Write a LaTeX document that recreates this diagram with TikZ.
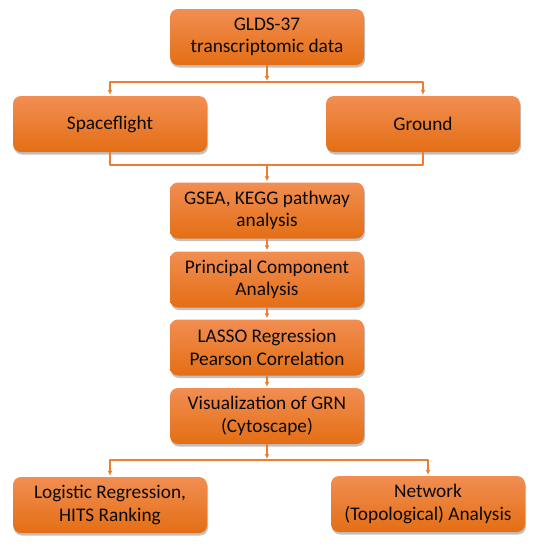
\documentclass[tikz,border=0pt]{standalone}
\usepackage{fontspec}
\setmainfont{Carlito}
\usetikzlibrary{arrows.meta,shadows}

\definecolor{boxtop}{RGB}{241,142,82}
\definecolor{boxbot}{RGB}{228,110,20}
\definecolor{wire}{RGB}{237,125,49}
\definecolor{ink}{RGB}{10,10,10}

\tikzset{
  stagebox/.style={rectangle, rounded corners=8, minimum width=194, minimum height=56,
    inner sep=0pt, align=center, top color=boxtop, bottom color=boxbot, text=ink,
    font=\fontsize{19.3}{22.5}\selectfont,
    drop shadow={shadow xshift=1pt, shadow yshift=-2.5pt, opacity=0.35, fill=black!70}},
  wireline/.style={draw=wire, line width=1.6pt},
  wirearrow/.style={wireline, -{Latex[length=5pt,width=5pt]}, shorten >=1pt},
}

\begin{document}
\begin{tikzpicture}[x=1pt, y=-1pt, line join=round]

  % ════ 顶部数据 ════
  \node[stagebox] (data) at (267,37) {GLDS-37\\transcriptomic data};

  % ════ 两组样本 ════
  \node[stagebox] (flight) at (110,124) {Spaceflight};
  \node[stagebox] (ground) at (423,124) {Ground};

  % ════ 中间流程 ════
  \node[stagebox] (gsea)  at (267,210.5) {GSEA, KEGG pathway\\analysis};
  \node[stagebox] (pca)   at (267,279.5) {Principal Component\\Analysis};
  \node[stagebox] (lasso) at (267,347.5) {LASSO Regression\\Pearson Correlation};
  \node[stagebox] (grn)   at (267,416)   {Visualization of GRN\\(Cytoscape)};

  % ════ 底部两项分析 ════
  \node[stagebox] (logit) at (110,505) {Logistic Regression,\\HITS Ranking};
  \node[stagebox] (topo)  at (428,504) {Network\\(Topological) Analysis};

  % ════ 分叉 / 汇合点 ════
  \coordinate (split1) at (267,82);
  \coordinate (merge)  at (267,165);
  \coordinate (split2) at (267,460);

  % ════ 连线 ════
  \draw[wirearrow] (data.south) -- (split1);
  \draw[wirearrow] (split1) -| (flight.north);
  \draw[wirearrow] (split1) -| (ground.north);

  \draw[wireline] (flight.south) |- (merge);
  \draw[wireline] (ground.south) |- (merge);
  \draw[wirearrow] (merge) -- (gsea.north);

  \draw[wirearrow] (gsea.south) -- (pca.north);
  \draw[wirearrow] (pca.south) -- (lasso.north);
  \draw[wirearrow] (lasso.south) -- (grn.north);

  % ⚠ 分叉箭头先到横线，再分到两边
  \draw[wirearrow] (grn.south) -- (split2);
  \draw[wirearrow] (split2) -| (logit.north);
  \draw[wirearrow] (split2) -| (topo.north);

  \path[use as bounding box] (0,0) rectangle (537,550);
\end{tikzpicture}
\end{document}
